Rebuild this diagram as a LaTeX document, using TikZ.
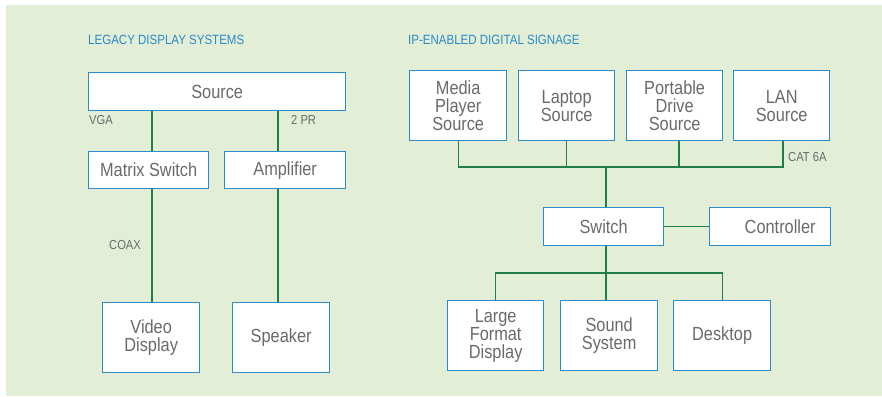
\documentclass[tikz,border=0pt]{standalone}
\usepackage{fontspec}
\setmainfont{Liberation Sans}[FakeStretch=0.86]
\begin{document}
\begin{tikzpicture}[x=1pt,y=-1pt,
  box/.style={draw=boxblue,line width=1.3pt,fill=white,text=txtgray,
    font=\fontsize{19}{18}\selectfont,align=center,inner sep=0pt,anchor=north west},
  wire/.style={draw=wiregreen,line width=1.1pt},
  lbl/.style={text=txtgray,font=\fontsize{13}{14}\selectfont,inner sep=0pt},
  ttl/.style={text=ttlblue,font=\fontsize{13.4}{15}\selectfont,inner sep=0pt,anchor=west}]
\definecolor{boxblue}{HTML}{2B8CCC}
\definecolor{wiregreen}{HTML}{1F7F45}
\definecolor{txtgray}{HTML}{6A6A6A}
\definecolor{ttlblue}{HTML}{2A8AC8}
\definecolor{bggreen}{HTML}{E2EFD6}
\useasboundingbox (0,0) rectangle (882,396);
\fill[white] (0,0) rectangle (882,396);
\fill[bggreen] (6,5) rectangle (882,396);
% titles
\node[ttl] (t1) at (88,40) {LEGACY DISPLAY SYSTEMS};
\node[ttl] (t2) at (408,40) {IP-ENABLED DIGITAL SIGNAGE};
% left boxes
\node[box,minimum width=257pt,minimum height=38pt] (src) at (88,72) {Source};
\node[box,minimum width=120pt,minimum height=37pt] (msw) at (88,151) {Matrix Switch};
\node[box,minimum width=121pt,minimum height=37pt] (amp) at (224,151) {Amplifier};
\node[box,minimum width=97pt,minimum height=70pt] (vid) at (102,302) {Video\\Display};
\node[box,minimum width=97pt,minimum height=70pt] (spk) at (232,302) {Speaker};
\coordinate (xa) at (152,0);
\coordinate (xb) at (278,0);
\draw[wire] (src.south -| xa) -- (msw.north -| xa);
\draw[wire] (msw.south -| xa) -- (vid.north -| xa);
\draw[wire] (src.south -| xb) -- (amp.north -| xb);
\draw[wire] (amp.south -| xb) -- (spk.north -| xb);
\node[lbl,anchor=west] (vga) at (89,120) {VGA};
\node[lbl,anchor=west] (pr) at (291,120) {2 PR};
\node[lbl,anchor=west] (coax) at (109,245) {COAX};
% right boxes
\node[box,minimum width=97pt,minimum height=70pt] (mps) at (409,70) {Media\\Player\\Source};
\node[box,minimum width=96pt,minimum height=70pt] (lap) at (518,70) {Laptop\\Source};
\node[box,minimum width=96pt,minimum height=70pt] (pds) at (626,70) {Portable\\Drive\\Source};
\node[box,minimum width=96pt,minimum height=70pt] (lan) at (733,70) {LAN\\Source};
\node[box,minimum width=120pt,minimum height=38pt] (sw) at (543,207) {Switch};
\node[box,minimum width=121pt,minimum height=38pt,text width=121pt,align=center] (ctl) at (709,207) {\hspace*{20pt}Controller};
\node[box,minimum width=96pt,minimum height=70pt] (lfd) at (447,300) {Large\\Format\\Display};
\node[box,minimum width=97pt,minimum height=70pt] (snd) at (560,300) {Sound\\System};
\node[box,minimum width=97pt,minimum height=70pt] (dsk) at (673,300) {Desktop};
\coordinate (bus1) at (0,167);
\coordinate (bus2) at (0,273);
\coordinate (xt) at (606,0);
\coordinate (xp) at (679,0);
\coordinate (xl) at (783,0);
\draw[wire] (mps.south) -- (mps.south |- bus1) -- (xl |- bus1) -- (lan.south -| xl);
\draw[wire] (lap.south) -- (lap.south |- bus1);
\draw[wire] (pds.south -| xp) -- (xp |- bus1);
\draw[wire] (xt |- bus1) -- (sw.north -| xt);
\draw[wire] (sw.east) -- (ctl.west);
\draw[wire] (sw.south -| xt) -- (snd.north -| xt);
\draw[wire] (lfd.north) -- (lfd.north |- bus2) -- (dsk.north |- bus2) -- (dsk.north);
\node[lbl,anchor=west] (cat) at (788,157) {CAT 6A};
\end{tikzpicture}
\end{document}
